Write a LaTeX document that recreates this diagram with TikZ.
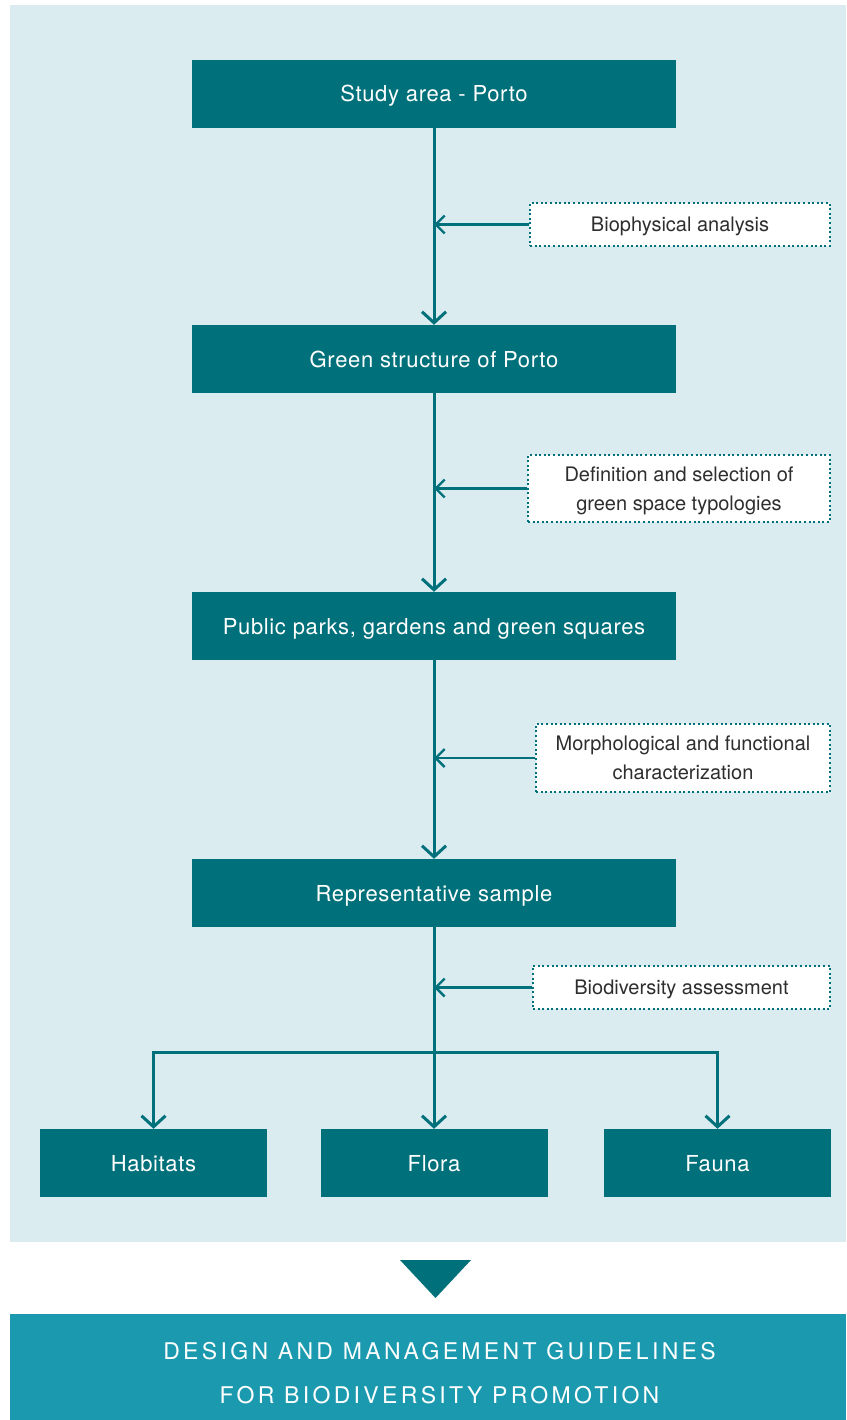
\documentclass[tikz,border=0pt]{standalone}
\usepackage{fontspec}
\setmainfont{TeX Gyre Heros}
\newfontfamily\boxfont[LetterSpace=3]{TeX Gyre Heros}
\newfontfamily\bannerfont[LetterSpace=14.5]{TeX Gyre Heros}
\usetikzlibrary{arrows.meta,positioning}

\definecolor{darkteal}{HTML}{00707A}
\definecolor{paleblue}{HTML}{DAECF0}
\definecolor{bannerblue}{HTML}{1B99AE}
\definecolor{notegray}{HTML}{2E2E2E}

\tikzset{
  mainbox/.style={fill=darkteal, text=white, minimum width=484pt, minimum height=68pt,
    inner sep=0pt, text height=16pt, text depth=0pt, font=\boxfont\fontsize{22}{26}\selectfont},
  smallbox/.style={mainbox, minimum width=227pt},
  notebox/.style={draw=darkteal, fill=white, line width=2pt, dash pattern=on 2pt off 2.6pt,
    text=notegray, align=center, inner sep=0pt, text depth=0pt, font=\fontsize{20}{29}\selectfont},
  flow/.style={draw=darkteal, line width=3pt, -{Straight Barb[length=11pt,width=24pt]}},
  branch/.style={draw=darkteal, line width=3pt,
    {Straight Barb[length=11pt,width=24pt]}-{Straight Barb[length=11pt,width=24pt]}},
  feed/.style={draw=darkteal, line width=2.4pt, -{Straight Barb[length=9pt,width=18pt]}},
}

\begin{document}
\begin{tikzpicture}[x=1pt,y=-1pt]
\useasboundingbox (0,0) rectangle (846,1420);
\fill[paleblue] (10,5) rectangle (846,1242);

\node[mainbox] (study) at (434,94) {Study area - Porto};
\node[mainbox] (green) at (434,359) {Green structure of Porto};
\node[mainbox] (parks) at (434,626) {Public parks, gardens and green squares};
\node[mainbox] (sample) at (434,893) {Representative sample};

\node[smallbox] (habitats) at (153.5,1163) {Habitats};
\node[smallbox] (flora) at (434,1163) {Flora};
\node[smallbox] (fauna) at (717.5,1163) {Fauna};

\node[notebox, minimum width=300pt, minimum height=43pt] (biophys) at (680,224.5) {Biophysical analysis};
\node[notebox, minimum width=302pt, minimum height=67pt] (typology) at (679,488.5)
  {Definition and selection of\\green space typologies};
\node[notebox, minimum width=294pt, minimum height=68pt] (morpho) at (683,758)
  {Morphological and functional\\characterization};
\node[notebox, minimum width=297pt, minimum height=43pt] (assess) at (681.5,987.5) {Biodiversity assessment};

\draw[flow] (study) -- (green);
\draw[flow] (green) -- (parks);
\draw[flow] (parks) -- (sample);

\draw[feed] (biophys) -- (biophys -| study);
\draw[feed] (typology) -- (typology -| green);
\draw[feed] (morpho) -- (morpho -| parks);
\draw[feed] (assess) -- (assess -| sample);

% split to the three groups
\coordinate (split) at (434,1052);
\draw[flow] (sample) -- (flora);
\draw[branch] (habitats.north) -- (habitats.north |- split) -- (fauna.north |- split) -- (fauna.north);

\fill[darkteal] (400,1260) -- (471,1260) -- (435.5,1298) -- cycle;

\node[fill=bannerblue, minimum width=836pt, minimum height=106pt, inner sep=0pt] (banner) at (428,1367) {};
\node[text=white, align=center, font=\bannerfont\fontsize{23}{44}\selectfont] (guide) at (439.5,1373)
  {DESIGN AND MANAGEMENT GUIDELINES\\FOR BIODIVERSITY PROMOTION};
\end{tikzpicture}
\end{document}
